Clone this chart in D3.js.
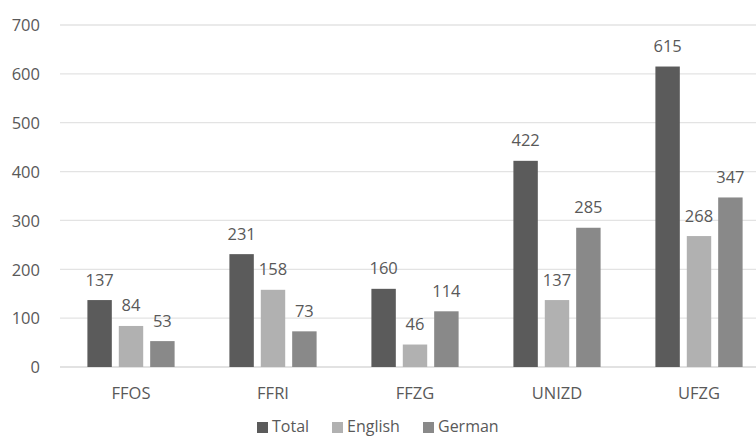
<!DOCTYPE html>
<html><head><meta charset="utf-8">
<script src="https://cdn.jsdelivr.net/npm/d3@7"></script>
<style>body{margin:0;background:#fff}svg{display:block}text{font-family:"Open Sans",sans-serif;fill:#595959}</style>
</head><body><svg id="c" width="756" height="437"></svg>
<script>
const categories = ["FFOS","FFRI","FFZG","UNIZD","UFZG"];
const series = ["Total","English","German"];
const totalValues = [137,231,160,422,615];
const englishValues = [84,158,46,137,268];
const germanValues = [53,73,114,285,347];
const yTicks = [0,100,200,300,400,500,600,700];
const colors = {Total:"#5b5b5b", English:"#b1b1b1", German:"#898989"};
const valuesBySeries = {Total: totalValues, English: englishValues, German: germanValues};

const svg = d3.select("#c");
const y = d3.scaleLinear().domain([0,700]).range([367,25]);
const x0 = d3.scaleBand().domain(categories).range([60,770]).padding(0);
const x1 = d3.scaleBand().domain(series).range([27.4, x0.bandwidth()-27.4]).paddingInner(0.222).paddingOuter(0);

// gridlines
svg.append("g").selectAll("line").data(yTicks).join("line")
  .attr("x1",60).attr("x2",756).attr("y1",d=>y(d)).attr("y2",d=>y(d))
  .attr("stroke",d=>d===0?"#d9d9d9":"#e3e3e3").attr("stroke-width",1.3);

// y axis labels
const yAxis = d3.axisLeft(y).tickValues(yTicks).tickSize(0).tickPadding(0);
const ga = svg.append("g").attr("transform","translate(40,0)").call(yAxis);
ga.select(".domain").remove();
ga.selectAll("text").attr("font-size","16.5px").style("font-family","'Open Sans',sans-serif").attr("fill","#595959").attr("dy","0.35em");

// bars
const groups = svg.append("g").selectAll("g").data(categories).join("g")
  .attr("transform",d=>`translate(${x0(d)},0)`);
groups.each(function(cat,i){
  const g = d3.select(this);
  series.forEach(s=>{
    const v = valuesBySeries[s][i];
    g.append("rect").attr("x",x1(s)).attr("width",x1.bandwidth())
      .attr("y",y(v)).attr("height",y(0)-y(v)).attr("fill",colors[s]);
    g.append("text").attr("x",x1(s)+x1.bandwidth()/2).attr("y",y(v)-14.5)
      .attr("text-anchor","middle").attr("font-size","16.5px").text(v);
  });
});

// x labels
const xAxis = d3.axisBottom(x0).tickSize(0).tickPadding(0);
const gx = svg.append("g").attr("transform","translate(0,399)").call(xAxis);
gx.select(".domain").remove();
gx.selectAll("text").attr("dy","0").attr("font-size","16.5px").style("font-family","'Open Sans',sans-serif").attr("fill","#595959");

// legend
const legendX = [257,332,423];
const lg = svg.append("g").selectAll("g").data(series).join("g")
  .attr("transform",(d,i)=>`translate(${legendX[i]},0)`);
lg.append("rect").attr("x",0).attr("y",422).attr("width",11).attr("height",11).attr("fill",d=>colors[d]);
lg.append("text").attr("x",15).attr("y",432).attr("font-size","16px").text(d=>d);
</script></body></html>
